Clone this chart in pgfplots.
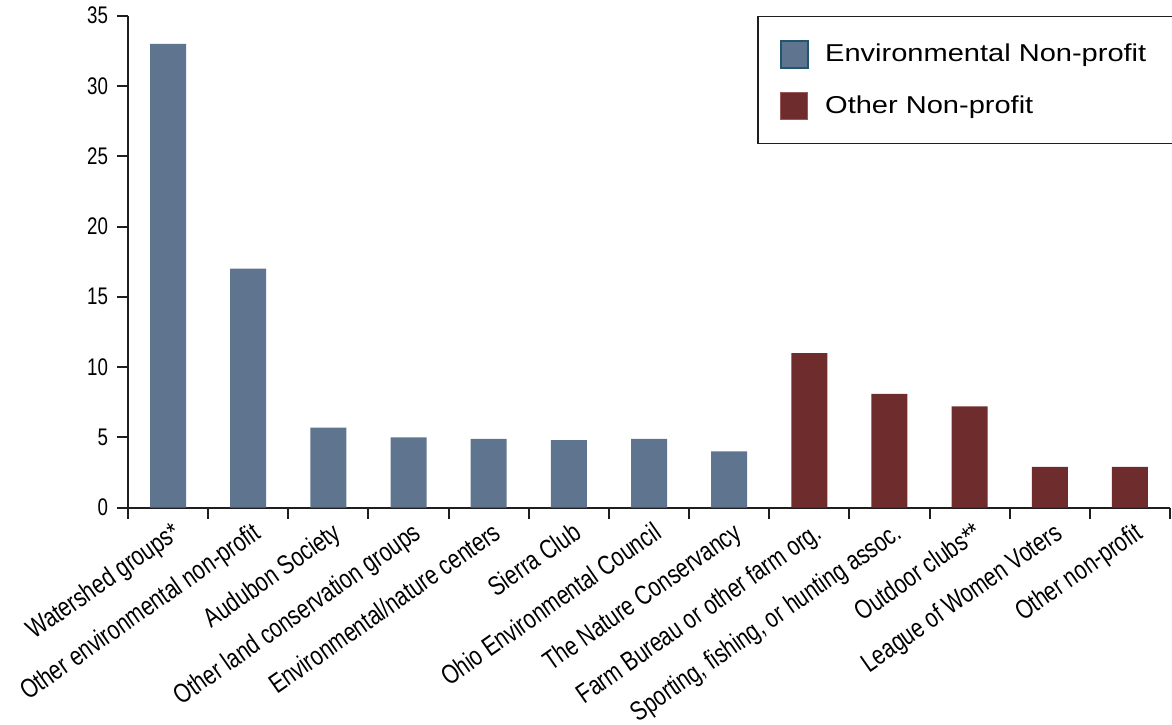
\documentclass[border=0pt]{standalone}
\usepackage{pgfplots}
\pgfplotsset{compat=1.18}
\usepackage{fontspec}
\setmainfont{Liberation Sans}
\newfontfamily\condfont[FakeStretch=0.78]{Liberation Sans}
\newfontfamily\legfont[FakeStretch=1.19]{Liberation Sans}

\definecolor{envblue}{RGB}{94,116,143}
\definecolor{envedge}{RGB}{32,86,110}
\definecolor{othred}{RGB}{110,44,45}
\definecolor{othedge}{RGB}{150,90,90}
\definecolor{axisgray}{RGB}{30,30,30}

\begin{document}
\begin{tikzpicture}
\begin{axis}[
  at={(0,0)}, anchor=south west,
  scale only axis,
  width=521pt, height=246pt,
  xmin=-0.5, xmax=12.5,
  ymin=0, ymax=35,
  axis x line=bottom, axis y line=left,
  axis line style={-, line width=1pt, draw=axisgray},
  tick style={line width=1pt, draw=axisgray},
  tick align=outside,
  major tick length=5.5pt,
  ytick={0,5,...,35},
  yticklabel style={font=\condfont\fontsize{12}{13}\selectfont, xshift=-1pt},
  /pgf/number format/assume math mode=true,
  xtick={-0.5,0.5,...,12.5},
  xticklabels={},
  extra x ticks={0,1,...,12},
  extra x tick labels={Watershed groups*, Other environmental non-profit, Audubon Society, Other land conservation groups, Environmental/nature centers, Sierra Club, Ohio Environmental Council, The Nature Conservancy, Farm Bureau or other farm org., {Sporting, fishing, or hunting assoc.}, Outdoor clubs**, League of Women Voters, Other non-profit},
  extra x tick style={major tick length=0pt,
    tick label style={font=\condfont\fontsize{13.5}{14.5}\selectfont, rotate=35, anchor=north east, inner sep=0pt, xshift=-2.5pt, yshift=-6pt}},
  ybar, bar width=18pt, bar shift=0pt,
  legend style={at={(rel axis cs:1.003,1.0)}, anchor=north east,
    draw=axisgray, line width=0.8pt, font=\legfont\fontsize{12.2}{13}\selectfont,
    inner xsep=11pt, inner ysep=11.5pt, row sep=11.5pt,
    /tikz/every odd column/.append style={column sep=6pt}},
  legend cell align=left,
]
\addplot[fill=envblue, draw=none,
  legend image code/.code={\draw[fill=envblue, draw=envedge, line width=1.2pt] (0pt,-6.75pt) rectangle (13.5pt,6.75pt);}]
  coordinates {(0,33.0) (1,17.0) (2,5.7) (3,5.0) (4,4.9) (5,4.8) (6,4.9) (7,4.0)};
\addlegendentry{Environmental Non-profit}
\addplot[fill=othred, draw=none,
  legend image code/.code={\draw[fill=othred, draw=othedge, line width=0.5pt] (0pt,-6.75pt) rectangle (13.5pt,6.75pt);}]
  coordinates {(8,11.0) (9,8.1) (10,7.2) (11,2.9) (12,2.9)};
\addlegendentry{Other Non-profit}
\end{axis}
\pgfresetboundingbox
\path (-64pt,-108.15pt) rectangle (522pt,253.85pt);
\end{tikzpicture}
\end{document}
